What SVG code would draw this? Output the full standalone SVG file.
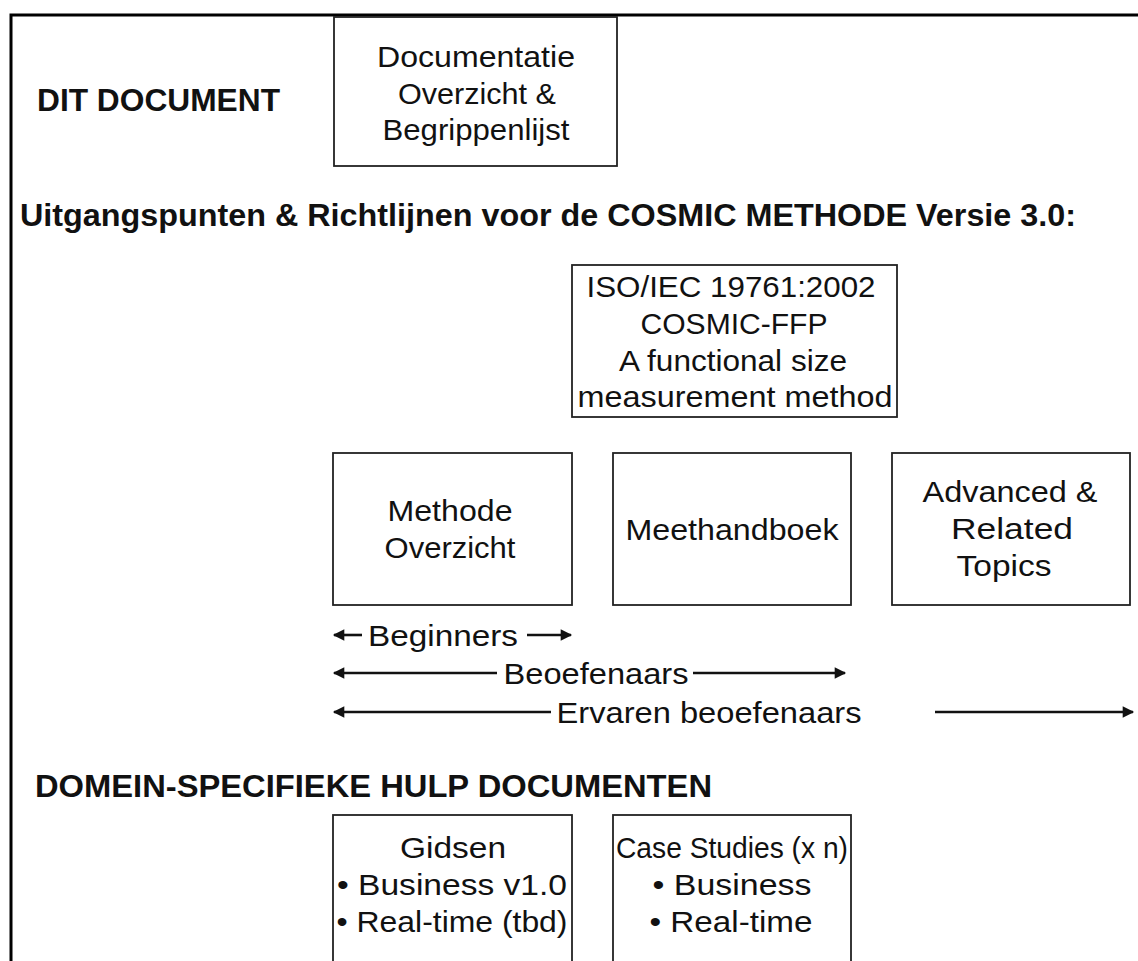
<svg xmlns="http://www.w3.org/2000/svg" width="1138" height="961" viewBox="0 0 1138 961">
<style>
.box{fill:#fff;stroke:#222;stroke-width:1.8}
.t{font-family:"Liberation Sans",Arial,sans-serif;font-size:30px;fill:#111;text-anchor:middle}
.h{font-family:"Liberation Sans",Arial,sans-serif;font-size:31px;font-weight:bold;fill:#111}
.ln{stroke:#111;stroke-width:2.6;fill:none}
</style>
<defs>
<marker id="ah" viewBox="0 0 10 10" refX="9" refY="5" markerWidth="5" markerHeight="4.4" orient="auto-start-reverse" markerUnits="strokeWidth">
<path d="M0,0 L10,5 L0,10 Z" fill="#111"/>
</marker>
</defs>
<rect width="1138" height="961" fill="#fff"/>
<g id="frame">
<path d="M11,961 V15 H1138" fill="none" stroke="#000" stroke-width="3"/>
</g>
<g id="labels">
<text class="h" x="37" y="111" textLength="243" lengthAdjust="spacingAndGlyphs">DIT DOCUMENT</text>
<text class="h" x="20" y="226" textLength="1056" lengthAdjust="spacingAndGlyphs">Uitgangspunten &amp; Richtlijnen voor de COSMIC METHODE Versie 3.0:</text>
<text class="h" x="35" y="797" textLength="677" lengthAdjust="spacingAndGlyphs">DOMEIN-SPECIFIEKE HULP DOCUMENTEN</text>
</g>
<g id="node-documentatie">
<rect class="box" x="334" y="17" width="283" height="149"/>
<text class="t" x="476" y="67" textLength="198" lengthAdjust="spacingAndGlyphs">Documentatie</text>
<text class="t" x="477" y="104" textLength="158" lengthAdjust="spacingAndGlyphs">Overzicht &amp;</text>
<text class="t" x="476" y="140" textLength="187" lengthAdjust="spacingAndGlyphs">Begrippenlijst</text>
</g>
<g id="node-iso">
<rect class="box" x="572" y="265" width="325" height="152"/>
<text class="t" x="731" y="297" textLength="289" lengthAdjust="spacingAndGlyphs">ISO/IEC 19761:2002</text>
<text class="t" x="734" y="334" textLength="187" lengthAdjust="spacingAndGlyphs">COSMIC-FFP</text>
<text class="t" x="733" y="371" textLength="228" lengthAdjust="spacingAndGlyphs">A functional size</text>
<text class="t" x="735" y="407" textLength="315" lengthAdjust="spacingAndGlyphs">measurement method</text>
</g>
<g id="node-methode">
<rect class="box" x="333" y="453" width="239" height="152"/>
<text class="t" x="450" y="521" textLength="125" lengthAdjust="spacingAndGlyphs">Methode</text>
<text class="t" x="450" y="558" textLength="131" lengthAdjust="spacingAndGlyphs">Overzicht</text>
</g>
<g id="node-meethandboek">
<rect class="box" x="613" y="453" width="238" height="152"/>
<text class="t" x="732" y="540" textLength="213" lengthAdjust="spacingAndGlyphs">Meethandboek</text>
</g>
<g id="node-advanced">
<rect class="box" x="892" y="453" width="238" height="152"/>
<text class="t" x="1010" y="502" textLength="175" lengthAdjust="spacingAndGlyphs">Advanced &amp;</text>
<text class="t" x="1012" y="539" textLength="122" lengthAdjust="spacingAndGlyphs">Related</text>
<text class="t" x="1004" y="576" textLength="95" lengthAdjust="spacingAndGlyphs">Topics</text>
</g>
<g id="node-gidsen">
<rect class="box" x="333" y="815" width="239" height="160"/>
<text class="t" x="453" y="858" textLength="106" lengthAdjust="spacingAndGlyphs">Gidsen</text>
<text class="t" x="452" y="895" textLength="230" lengthAdjust="spacingAndGlyphs">• Business v1.0</text>
<text class="t" x="452" y="932" textLength="231" lengthAdjust="spacingAndGlyphs">• Real-time (tbd)</text>
</g>
<g id="node-casestudies">
<rect class="box" x="613" y="815" width="238" height="160"/>
<text class="t" x="732" y="858" textLength="232" lengthAdjust="spacingAndGlyphs">Case Studies (x n)</text>
<text class="t" x="732" y="895" textLength="159" lengthAdjust="spacingAndGlyphs">• Business</text>
<text class="t" x="731" y="932" textLength="163" lengthAdjust="spacingAndGlyphs">• Real-time</text>
</g>
<g id="connectors">
<line class="ln" x1="362" y1="635" x2="334" y2="635" marker-end="url(#ah)"/>
<line class="ln" x1="527" y1="635" x2="571" y2="635" marker-end="url(#ah)"/>
<line class="ln" x1="497" y1="673" x2="334" y2="673" marker-end="url(#ah)"/>
<line class="ln" x1="693" y1="673" x2="845" y2="673" marker-end="url(#ah)"/>
<line class="ln" x1="551" y1="712" x2="334" y2="712" marker-end="url(#ah)"/>
<line class="ln" x1="935" y1="712" x2="1133" y2="712" marker-end="url(#ah)"/>
</g>
<g id="arrow-labels">
<text class="t" x="443" y="646" textLength="150" lengthAdjust="spacingAndGlyphs">Beginners</text>
<text class="t" x="596" y="684" textLength="185" lengthAdjust="spacingAndGlyphs">Beoefenaars</text>
<text class="t" x="709" y="723" textLength="305" lengthAdjust="spacingAndGlyphs">Ervaren beoefenaars</text>
</g>
</svg>
